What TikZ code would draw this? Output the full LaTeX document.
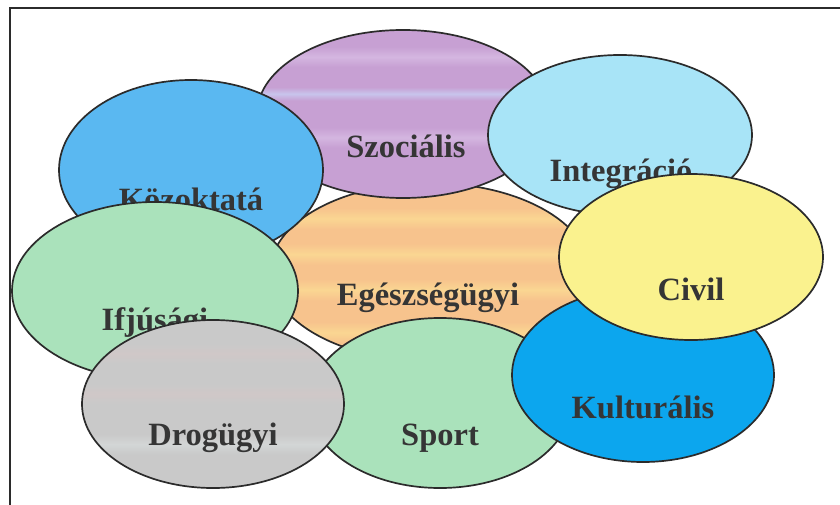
\documentclass[tikz,border=0pt]{standalone}
\usepackage{fontspec}
\setmainfont{Liberation Serif}
\usetikzlibrary{shapes.geometric}
\definecolor{socA}{HTML}{C7A0D3}
\definecolor{socB}{HTML}{D4B6E0}
\definecolor{socC}{HTML}{C8C4EC}
\definecolor{kozC}{HTML}{5AB8F1}
\definecolor{intC}{HTML}{A8E4F7}
\definecolor{civC}{HTML}{FAF28E}
\definecolor{kulC}{HTML}{0CA6EE}
\definecolor{grnC}{HTML}{AAE2BB}
\definecolor{gryA}{HTML}{C9C9C9}
\definecolor{gryB}{HTML}{D0C8C8}
\definecolor{gryC}{HTML}{D3D6D6}
\definecolor{orgA}{HTML}{F7C38D}
\definecolor{orgB}{HTML}{FAD692}
\definecolor{lineC}{HTML}{2B2B2B}
\definecolor{txtC}{HTML}{353535}
\pgfdeclareverticalshading{orangestripes}{100bp}{color(0bp)=(orgA); color(25bp)=(orgA);
 color(30bp)=(orgA); color(33bp)=(orgB); color(36bp)=(orgA); color(42bp)=(orgA);
 color(45bp)=(orgB); color(48bp)=(orgA); color(52bp)=(orgA); color(55bp)=(orgB);
 color(58bp)=(orgA); color(62bp)=(orgA); color(65bp)=(orgB); color(68bp)=(orgA);
 color(75bp)=(orgA); color(100bp)=(orgA)}
\pgfdeclareverticalshading{purplestripes}{100bp}{color(0bp)=(socA); color(25bp)=(socA);
 color(40bp)=(socA); color(43bp)=(socB); color(46bp)=(socA); color(54bp)=(socA);
 color(56bp)=(socC); color(58bp)=(socA); color(64bp)=(socA); color(67bp)=(socB);
 color(70bp)=(socA); color(75bp)=(socA); color(100bp)=(socA)}
\pgfdeclareverticalshading{graystripes}{100bp}{color(0bp)=(gryA); color(25bp)=(gryA);
 color(35bp)=(gryA); color(38bp)=(gryC); color(41bp)=(gryA); color(50bp)=(gryA);
 color(53bp)=(gryB); color(56bp)=(gryA); color(62bp)=(gryA); color(65bp)=(gryB);
 color(68bp)=(gryA); color(75bp)=(gryA); color(100bp)=(gryA)}
\tikzset{
  blob/.style={ellipse, draw=lineC, line width=1.7pt, inner sep=0pt},
  lbl/.style={anchor=base, text=txtC, font=\fontsize{32.5}{32.5}\selectfont\bfseries, inner sep=0pt},
  frameline/.style={draw=lineC, line width=1.6pt}
}
\begin{document}
\begin{tikzpicture}[x=1pt,y=-1pt]
\useasboundingbox (0,0) rectangle (840,505);
\fill[white] (0,0) rectangle (840,505);
\coordinate (ftr) at (840,8);
\coordinate (ftl) at (10,8);
\coordinate (fbl) at (10,505);
\draw[frameline] (ftr) -- (ftl) -- (fbl);
% Egeszsegugyi
\node[blob, shading=orangestripes, minimum width=320pt, minimum height=178pt] (egE) at (430,272) {};
\node[lbl] (egT) at (428,305) {Egészségügyi};
% Szocialis
\node[blob, shading=purplestripes, minimum width=292pt, minimum height=168pt] (soE) at (403,114) {};
\node[lbl] (soT) at (406,158) {Szociális};
% Kozoktata
\node[blob, fill=kozC, minimum width=264pt, minimum height=180pt] (koE) at (191,170) {};
\node[lbl] (koT) at (191,210) {Közoktatá};
% Ifjusagi
\node[blob, fill=grnC, minimum width=286pt, minimum height=178pt] (ifE) at (155,291) {};
\node[lbl] (ifT) at (155,330) {Ifjúsági};
% Sport
\node[blob, fill=grnC, minimum width=262pt, minimum height=170pt] (spE) at (440,403) {};
\node[lbl] (spT) at (440,445) {Sport};
% Drogugyi
\node[blob, shading=graystripes, minimum width=262pt, minimum height=168pt] (drE) at (213,404) {};
\node[lbl] (drT) at (213,445) {Drogügyi};
% Integracio
\node[blob, fill=intC, minimum width=264pt, minimum height=160pt] (inE) at (620,135) {};
\node[lbl] (inT) at (621,182) {Integráció};
% Kulturalis
\node[blob, fill=kulC, minimum width=262pt, minimum height=174pt] (kuE) at (643,375) {};
\node[lbl] (kuT) at (643,418) {Kulturális};
% Civil
\node[blob, fill=civC, minimum width=264pt, minimum height=166pt] (ciE) at (691,257) {};
\node[lbl] (ciT) at (691,300) {Civil};
\end{tikzpicture}
\end{document}
